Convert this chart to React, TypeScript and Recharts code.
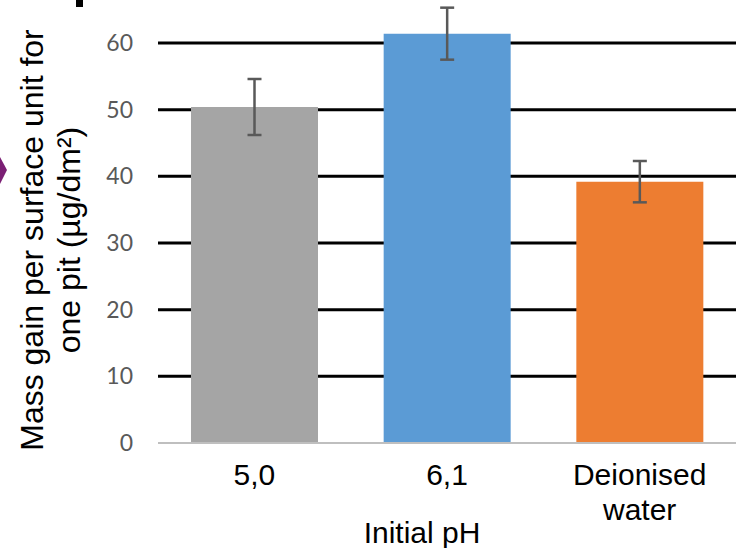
import React from 'react';
import {
  BarChart,
  Bar,
  XAxis,
  YAxis,
  CartesianGrid,
  Cell,
  ErrorBar
} from 'recharts';

const categories = ['5,0', '6,1', 'Deionised water'];
const massGain = [50.4, 61.4, 39.2];
const massGainError = [4.2, 3.9, 3.1];
const barColors = ['#A5A5A5', '#5B9BD5', '#ED7D31'];
const yTicks = [0, 10, 20, 30, 40, 50, 60];
const gridValues = [10, 20, 30, 40, 50, 60];

const data = categories.map((name, i) => ({
  name,
  value: massGain[i],
  err: massGainError[i]
}));

const ARIAL = '"Liberation Sans", Arial, sans-serif';

// one word per line, so "Deionised water" wraps like the original
const CategoryTick = ({ x, y, payload }: any) => {
  const lines = String(payload.value).split(' ');
  return (
    <text x={x} y={y} textAnchor="middle" fontSize={30} fontFamily={ARIAL} fill="#000">
      {lines.map((line, i) => (
        <tspan key={i} x={x} dy={i === 0 ? 21.5 : 35}>
          {line}
        </tspan>
      ))}
    </text>
  );
};

const YTitle = ({ viewBox }: any) => {
  const cy = 240;
  const x1 = viewBox.x + 43;
  const x2 = viewBox.x + 80;
  return (
    <g fontFamily={ARIAL} fontSize={32} fill="#000">
      <text x={x1} y={cy} textAnchor="middle" transform={`rotate(-90 ${x1} ${cy})`}>
        Mass gain per surface unit for
      </text>
      <text x={x2} y={cy} textAnchor="middle" transform={`rotate(-90 ${x2} ${cy})`}>
        one pit (µg/dm²)
      </text>
    </g>
  );
};

export default function App() {
  return (
    <div
      style={{
        position: 'absolute',
        left: 0,
        top: 0,
        width: 736,
        height: 548,
        overflow: 'hidden',
        background: '#fff'
      }}
    >
      <BarChart
        width={736}
        height={548}
        data={data}
        margin={{ top: 3, right: 0, left: 0, bottom: 0 }}
        barSize={127}
      >
        <CartesianGrid
          vertical={false}
          horizontalValues={gridValues}
          stroke="#000"
          strokeWidth={3}
        />
        <XAxis
          dataKey="name"
          height={105}
          axisLine={{ stroke: '#BFBFBF', strokeWidth: 2 }}
          tickLine={false}
          tickSize={0}
          tickMargin={20}
          interval={0}
          tick={<CategoryTick />}
          label={{
            value: 'Initial pH',
            position: 'insideBottom',
            offset: 5,
            dx: -25,
            style: { fontFamily: ARIAL, fontSize: 30, fill: '#000' }
          }}
        />
        <YAxis
          width={158}
          domain={[0, 66]}
          ticks={yTicks}
          axisLine={false}
          tickLine={false}
          tickSize={0}
          tickMargin={25}
          tick={{ fill: '#595959', fontSize: 23, fontFamily: 'Lato, sans-serif' }}
          label={{ content: <YTitle /> }}
        />
        <Bar dataKey="value" isAnimationActive={false}>
          {data.map((entry, index) => (
            <Cell key={`cell-${index}`} fill={barColors[index]} />
          ))}
          <ErrorBar dataKey="err" width={7} stroke="#595959" strokeWidth={2.5} />
        </Bar>
      </BarChart>
      <svg
        width={736}
        height={548}
        style={{ position: 'absolute', left: 0, top: 0, pointerEvents: 'none' }}
      >
        <polygon points="0,157 7,170 0,184" fill="#7B1F74" />
        <rect x={76} y={0} width={7} height={7} fill="#000" />
      </svg>
    </div>
  );
}
